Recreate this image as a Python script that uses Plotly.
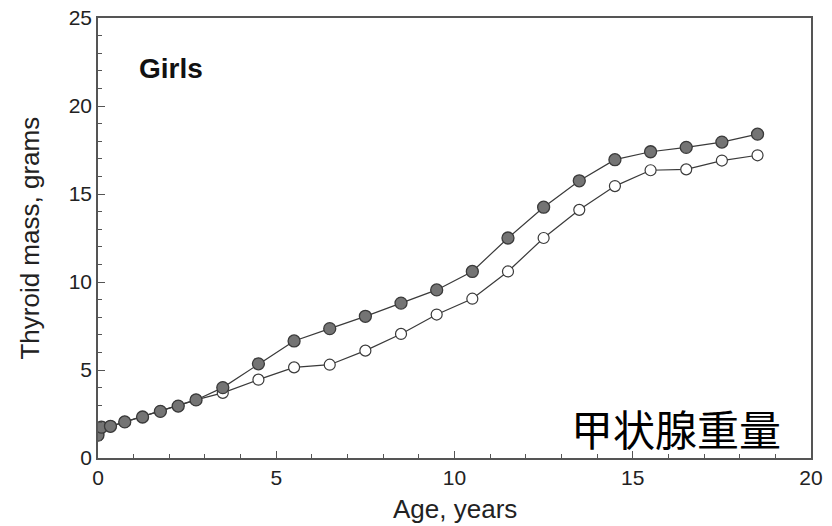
import plotly.graph_objects as go

# Age points (years) and thyroid mass (g) for the two curves
age = [0, 0.1, 0.35, 0.75, 1.25, 1.75, 2.25, 2.75, 3.5, 4.5, 5.5, 6.5, 7.5, 8.5,
       9.5, 10.5, 11.5, 12.5, 13.5, 14.5, 15.5, 16.5, 17.5, 18.5]
mass_filled = [1.3, 1.75, 1.8, 2.05, 2.33, 2.65, 2.95, 3.3, 4.0, 5.35, 6.65, 7.35,
               8.05, 8.8, 9.55, 10.6, 12.5, 14.25, 15.75, 16.95, 17.4, 17.65, 17.95, 18.4]
mass_open = [1.3, 1.75, 1.8, 2.05, 2.33, 2.65, 2.95, 3.3, 3.7, 4.45, 5.15, 5.3,
             6.1, 7.05, 8.15, 9.05, 10.6, 12.5, 14.1, 15.45, 16.35, 16.4, 16.9, 17.2]

x_ticks = [0, 5, 10, 15, 20]
y_ticks = [0, 5, 10, 15, 20, 25]

line_col = "#3a3a3a"
axis_col = "#555555"
text_col = "#222222"
font_fam = "Liberation Sans, Arial, sans-serif"

fig = go.Figure()
fig.add_trace(go.Scatter(
    x=age, y=mass_open, mode="lines+markers",
    line=dict(color=line_col, width=1.2),
    marker=dict(symbol="circle", size=11, color="white",
                line=dict(color=line_col, width=1.2)),
    showlegend=False,
))
fig.add_trace(go.Scatter(
    x=age, y=mass_filled, mode="lines+markers",
    line=dict(color=line_col, width=1.2),
    marker=dict(symbol="circle", size=12, color="#747474",
                line=dict(color=line_col, width=1.3)),
    showlegend=False,
))

fig.add_annotation(x=1.1, y=22.15, xref="x", yref="y", text="<b>Girls</b>",
                   showarrow=False, xanchor="left", yanchor="middle",
                   font=dict(family=font_fam, size=28, color="#111111"))
fig.add_annotation(x=16.2, y=1.75, xref="x", yref="y", text="甲状腺重量",
                   showarrow=False, xanchor="center", yanchor="middle",
                   font=dict(family="Noto Sans CJK SC", size=42, color="black"))

# Axis titles placed as paper-anchored labels so the plot frame stays fixed
fig.add_annotation(x=0.5, y=-0.116, xref="paper", yref="paper", text="Age, years",
                   showarrow=False, xanchor="center", yanchor="middle",
                   font=dict(family=font_fam, size=26, color=text_col))
fig.add_annotation(x=-0.096, y=0.5, xref="paper", yref="paper", text="Thyroid mass, grams",
                   showarrow=False, xanchor="center", yanchor="middle", textangle=-90,
                   font=dict(family=font_fam, size=26, color=text_col))

axis_common = dict(
    showline=True, linecolor=axis_col, linewidth=1.5, mirror=True,
    showgrid=False, zeroline=False, automargin=False,
    ticks="inside", ticklen=7, tickwidth=1.2, tickcolor=axis_col,
    tickfont=dict(family=font_fam, size=21, color=text_col),
    minor=dict(ticks="inside", ticklen=4, tickwidth=1, tickcolor=axis_col, dtick=1),
)

fig.update_xaxes(range=[0, 20], tickvals=x_ticks, **axis_common)
fig.update_yaxes(range=[0, 25], tickvals=y_ticks, **axis_common)

fig.update_layout(
    width=832, height=526,
    margin=dict(l=98, r=21, t=18, b=68),
    paper_bgcolor="white", plot_bgcolor="white",
)

fig.write_html("out.html")
